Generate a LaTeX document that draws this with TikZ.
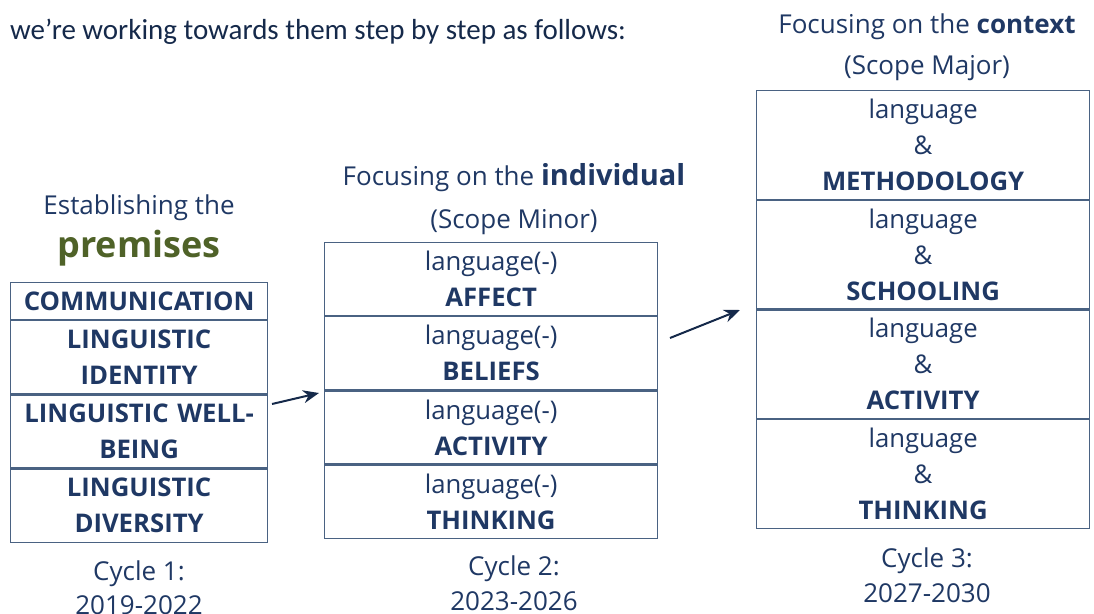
\documentclass[tikz,border=0pt]{standalone}
\usepackage{fontspec}
\setmainfont{Open Sans}
\newfontfamily\introfont{Carlito}
\usetikzlibrary{positioning,arrows.meta}
\definecolor{navy}{HTML}{1F3864}
\definecolor{olive}{HTML}{4F6228}
\definecolor{cellframe}{HTML}{4A6282}
\definecolor{ink}{HTML}{15294A}
\tikzstyle{cell} = [draw=cellframe, line width=1.2pt, text=navy, align=center, inner sep=0pt, font=\fontsize{25.7}{36}\selectfont]
\tikzstyle{narrowcell} = [cell, text width=257pt]
\tikzstyle{widecell} = [cell, text width=333pt]
\tikzstyle{caption} = [text=navy, anchor=base, inner sep=0pt, font=\fontsize{26}{30}\selectfont]
\tikzstyle{nextcycle} = [draw=ink, line width=2pt, -{Stealth[length=16pt,width=13pt]}]

\begin{document}
\begin{tikzpicture}[x=1pt,y=-1pt]
\useasboundingbox (0,0) rectangle (1094,613);
\node[anchor=base west, inner sep=0pt, text=ink, font=\introfont\fontsize{29}{32}\selectfont] (intro) at (10,39) {we’re working towards them step by step as follows:};

\node[caption] (est) at (139,214) {Establishing the};
\node[caption, text=olive, font=\fontsize{36}{40}\selectfont\bfseries] (prem) at (139,257) {premises};
\node[narrowcell, minimum height=37pt, anchor=north west] (comm) at (10,282) {\textbf{COMMUNICATION}};
\node[narrowcell, minimum height=73pt, below=0pt of comm] (ident) {\textbf{LINGUISTIC}\\\textbf{IDENTITY}};
\node[narrowcell, minimum height=73pt, below=0pt of ident] (well) {\textbf{LINGUISTIC WELL-}\\\textbf{BEING}};
\node[narrowcell, minimum height=73pt, below=0pt of well] (divers) {\textbf{LINGUISTIC}\\\textbf{DIVERSITY}};
\node[caption] (cyc1) at (139,580) {Cycle 1:};
\node[caption] (yrs1) at (139,614) {2019-2022};

\node[caption] (indiv) at (514,185) {Focusing on the {\fontsize{29}{30}\selectfont\bfseries individual}};
\node[caption] (minor) at (514,228) {(Scope Minor)};
\node[widecell, minimum height=73pt, anchor=north west] (affect) at (324,242) {language(-)\\\textbf{AFFECT}};
\node[widecell, minimum height=73pt, below=0pt of affect] (beliefs) {language(-)\\\textbf{BELIEFS}};
\node[widecell, minimum height=73pt, below=0pt of beliefs] (acttwo) {language(-)\\\textbf{ACTIVITY}};
\node[widecell, minimum height=73pt, below=0pt of acttwo] (thinktwo) {language(-)\\\textbf{THINKING}};
\node[caption] (cyc2) at (514,575) {Cycle 2:};
\node[caption] (yrs2) at (514,610) {2023-2026};

\node[caption] (context) at (927,33) {Focusing on the \textbf{context}};
\node[caption] (major) at (927,74) {(Scope Major)};
\node[widecell, minimum height=108.5pt, anchor=north west] (method) at (756,90) {language\\\&\\\textbf{METHODOLOGY}};
\node[widecell, minimum height=108.5pt, below=0pt of method] (school) {language\\\&\\\textbf{SCHOOLING}};
\node[widecell, minimum height=108.5pt, below=0pt of school] (actthree) {language\\\&\\\textbf{ACTIVITY}};
\node[widecell, minimum height=108.5pt, below=0pt of actthree] (thinkthree) {language\\\&\\\textbf{THINKING}};
\node[caption] (cyc3) at (927,567) {Cycle 3:};
\node[caption] (yrs3) at (927,602) {2027-2030};

\coordinate (fromone) at (272,404);
\coordinate (totwo) at (319,393);
\coordinate (fromtwo) at (670,338);
\coordinate (tothree) at (740,310);
\draw[nextcycle] (fromone) -- (totwo);
\draw[nextcycle] (fromtwo) -- (tothree);
\end{tikzpicture}
\end{document}
